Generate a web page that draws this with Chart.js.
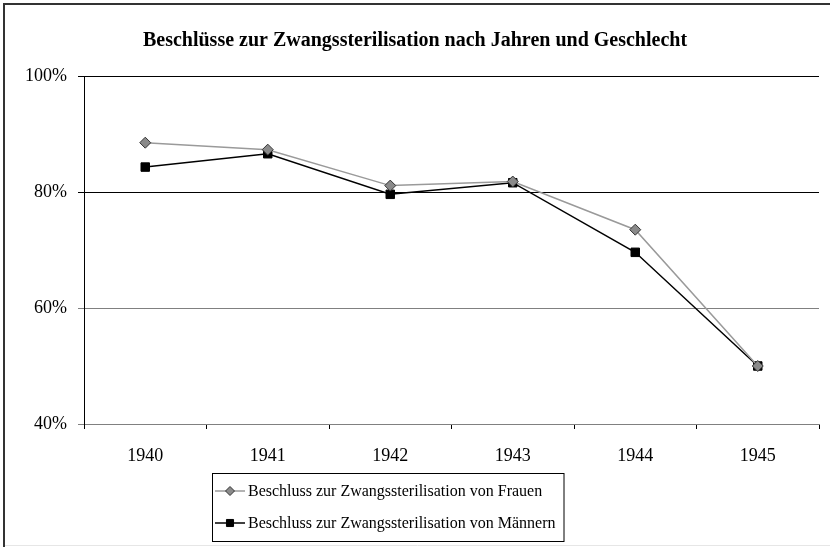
<!DOCTYPE html>
<html>
<head>
<meta charset="utf-8">
<script src="https://cdn.jsdelivr.net/npm/chart.js@4.4.1/dist/chart.umd.min.js"></script>
<style>
  html, body { margin: 0; padding: 0; background: #fff; }
  canvas { display: block; }
</style>
</head>
<body>
<canvas id="myChart" width="830" height="547"></canvas>
<script>
const years = ['1940', '1941', '1942', '1943', '1944', '1945'];
const frauen = [88.5, 87.3, 81.1, 81.8, 73.5, 50.0];
const maenner = [84.3, 86.6, 79.6, 81.6, 69.6, 50.0];
const yTicks = [40, 60, 80, 100];
const title = 'Beschlüsse zur Zwangssterilisation nach Jahren und Geschlecht';

const serif = '"Liberation Serif", "Times New Roman", serif';

// frame, title and the boxed legend
const extras = {
  id: 'extras',
  afterDraw(chart) {
    const ctx = chart.ctx;
    ctx.save();
    ctx.strokeStyle = '#333';
    ctx.lineWidth = 2;
    ctx.beginPath();
    ctx.moveTo(4, 547);
    ctx.lineTo(4, 4);
    ctx.lineTo(830, 4);
    ctx.stroke();
    ctx.strokeStyle = '#e6e6e6';
    ctx.lineWidth = 1;
    ctx.beginPath();
    ctx.moveTo(5, 545.5);
    ctx.lineTo(830, 545.5);
    ctx.stroke();

    ctx.fillStyle = '#000';
    ctx.textAlign = 'center';
    ctx.textBaseline = 'middle';
    ctx.font = 'bold 20px ' + serif;
    ctx.fillText(title, 415, 41);

    ctx.textAlign = 'left';
    ctx.font = '16px ' + serif;
    const sets = chart.data.datasets;
    let w = 0;
    sets.forEach(ds => { w = Math.max(w, ctx.measureText(ds.label).width); });
    const left = 212, top = 473, rowH = 32;
    ctx.strokeStyle = '#000';
    ctx.lineWidth = 1;
    ctx.strokeRect(left + 0.5, top + 0.5, 36 + w + 8, rowH * sets.length + 4);
    sets.forEach((ds, i) => {
      const y = top + 18 + i * rowH;
      ctx.strokeStyle = ds.borderColor;
      ctx.lineWidth = ds.borderWidth;
      ctx.beginPath();
      ctx.moveTo(left + 3, y);
      ctx.lineTo(left + 33, y);
      ctx.stroke();
      ctx.fillStyle = ds.pointBackgroundColor;
      ctx.strokeStyle = ds.pointBorderColor;
      ctx.lineWidth = 1;
      Chart.helpers.drawPoint(ctx, {pointStyle: ds.pointStyle, radius: ds.pointRadius - 1, borderWidth: 1}, left + 18, y);
      ctx.fillStyle = '#000';
      ctx.fillText(ds.label, left + 36, y + 1);
    });
    ctx.restore();
  }
};

new Chart('myChart', {
  type: 'line',
  data: {
    labels: years,
    datasets: [{
      label: 'Beschluss zur Zwangssterilisation von Frauen',
      data: frauen,
      borderColor: '#9a9a9a',
      borderWidth: 1.5,
      pointStyle: 'rectRot',
      pointRadius: 5.5,
      pointBackgroundColor: '#8a8a8a',
      pointBorderColor: '#333',
      pointBorderWidth: 1,
      tension: 0
    }, {
      label: 'Beschluss zur Zwangssterilisation von Männern',
      data: maenner,
      borderColor: '#000',
      borderWidth: 1.5,
      pointStyle: 'rect',
      pointRadius: 6,
      pointBackgroundColor: '#000',
      pointBorderColor: '#000',
      pointBorderWidth: 1,
      tension: 0
    }]
  },
  options: {
    responsive: false,
    animation: false,
    layout: { padding: { left: 0, right: 11, top: 76, bottom: 0 } },
    plugins: {
      legend: { display: false },
      tooltip: { enabled: false },
      title: { display: false }
    },
    scales: {
      x: {
        offset: true,
        afterFit(scale) { scale.height = 123; },
        grid: { drawOnChartArea: false, offset: true, tickLength: 5, color: '#000' },
        border: { color: '#808080', width: 1 },
        ticks: { color: '#000', padding: 16, font: { family: serif, size: 18 } }
      },
      y: {
        min: 40,
        max: 100,
        afterFit(scale) { scale.width = 84; },
        afterBuildTicks(scale) { scale.ticks = yTicks.map(v => ({ value: v })); },
        grid: {
          tickLength: 6,
          color: c => (c.tick && c.tick.value >= 80) ? '#000' : '#808080'
        },
        border: { color: '#000', width: 1 },
        ticks: {
          color: '#000',
          padding: 11,
          font: { family: serif, size: 18 },
          callback: v => v + '%'
        }
      }
    }
  },
  plugins: [extras]
});
</script>
</body>
</html>
